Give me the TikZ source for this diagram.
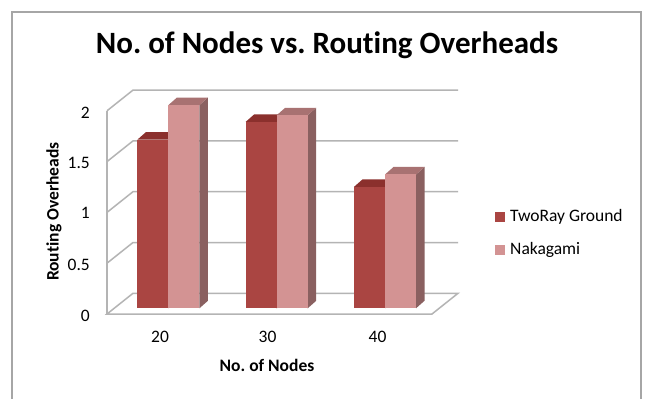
\documentclass[tikz,border=0pt]{standalone}
\usepackage{fontspec}
\setmainfont{Carlito}[Ligatures=NoCommon]
\frenchspacing
\definecolor{redF}{HTML}{AA4542}
\definecolor{redT}{HTML}{8B302D}
\definecolor{redS}{HTML}{7A3532}
\definecolor{pinkF}{HTML}{D39393}
\definecolor{pinkT}{HTML}{A87272}
\definecolor{pinkS}{HTML}{8A6060}
\definecolor{gridc}{HTML}{B4B4B4}
\definecolor{framec}{HTML}{A6A6A6}
\tikzset{
  gridline/.style={draw=gridc, line width=1.5pt},
  lbl/.style={font=\fontsize{17.5}{20}\selectfont, inner sep=0pt},
  blbl/.style={font=\bfseries\fontsize{17.5}{20}\selectfont, inner sep=0pt},
}
% \mybar{left}{value}{front}{top}{side}
\newcommand{\mybar}[5]{%
  \pgfmathsetmacro{\tp}{308.3-101.6*#2}%
  \fill[#5] (#1+31,\tp) -- (#1+39.5,\tp-7.5) -- (#1+39.5,300.8) -- (#1+31,308.3) -- cycle;
  \fill[#4] (#1,\tp) -- (#1+8.5,\tp-7.5) -- (#1+39.5,\tp-7.5) -- (#1+31,\tp) -- cycle;
  \fill[#3] (#1,\tp) rectangle (#1+31,308.3);
}
\begin{document}
\begin{tikzpicture}[x=1pt,y=-1pt]
\useasboundingbox (0,0) rectangle (646,399);
\fill[white] (0,0) rectangle (646,399);
% chart frame
\draw[framec, line width=1.3pt] (12,410) -- (12,12) -- (641,12) -- (641,410);
% gridlines
\foreach \v in {0.5,1,1.5,2}{
  \draw[gridline] (107,314-101.6*\v) -- (133,293.3-101.6*\v) -- (458,293.3-101.6*\v);
}
% floor
\draw[gridline] (107,314) -- (432,314) -- (458,293.3) -- (133,293.3) -- cycle;
% front axis
\draw[gridline] (107,314) -- (107,110.8);
% bars
\mybar{137.4}{1.66}{redF}{redT}{redS}
\mybar{168.4}{2.0}{pinkF}{pinkT}{pinkS}
\mybar{245.7}{1.835}{redF}{redT}{redS}
\mybar{276.7}{1.90}{pinkF}{pinkT}{pinkS}
\mybar{354.0}{1.195}{redF}{redT}{redS}
\mybar{385.0}{1.317}{pinkF}{pinkT}{pinkS}
% title
\node[font=\bfseries\fontsize{31}{35}\selectfont, inner sep=0pt, anchor=base] (title) at (327,53.3) {No. of Nodes vs. Routing Overheads};
% y tick labels
\node[lbl, anchor=east] (y2) at (90,113) {2};
\node[lbl, anchor=east] (y15) at (90,163) {1.5};
\node[lbl, anchor=east] (y1) at (90,213) {1};
\node[lbl, anchor=east] (y05) at (90,265) {0.5};
\node[lbl, anchor=east] (y0) at (90,316) {0};
% x tick labels
\node[lbl] (x20) at (160,337) {20};
\node[lbl] (x30) at (267.5,337) {30};
\node[lbl] (x40) at (377.5,337) {40};
% axis titles
\node[blbl] (xt) at (267,365) {No. of Nodes};
\node[blbl, rotate=90] (yt) at (54,211.7) {Routing Overheads};
% legend
\fill[redF] (495,211.7) rectangle (505,221.7);
\fill[pinkF] (495,245) rectangle (505,255);
\node[lbl, anchor=west] (l1) at (510,216.7) {TwoRay Ground};
\node[lbl, anchor=west] (l2) at (510,250) {Nakagami};
\end{tikzpicture}
\end{document}
